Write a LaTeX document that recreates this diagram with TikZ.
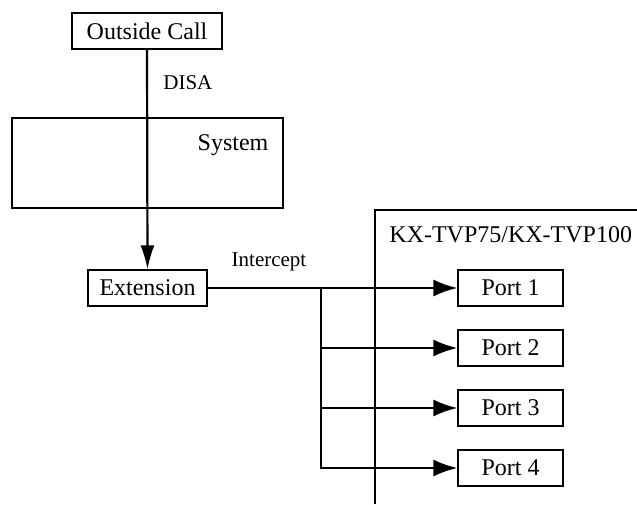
\documentclass[tikz,border=0pt]{standalone}
\usepackage{fontspec}
\setmainfont{Liberation Serif}
\usetikzlibrary{arrows.meta}
\begin{document}
\begin{tikzpicture}[x=0.5pt,y=-0.5pt,line cap=butt,line join=miter,
  box/.style={draw,line width=0.6pt,minimum height=18pt,inner sep=0pt,font=\fontsize{12}{14}\selectfont},
  flow/.style={line width=1.1pt,-{Latex[length=12pt,width=8.5pt]}},
  lbl/.style={font=\fontsize{10.5}{12}\selectfont,inner sep=0pt}]
  \useasboundingbox (0,0) rectangle (637,504);
  % system and voice processing frames
  \node[box,minimum width=135.5pt,minimum height=45pt] (sys) at (147.5,163) {};
  \node[font=\fontsize{12}{14}\selectfont,inner sep=0pt] (systxt) at (233,145) {System};
  \draw[line width=0.6pt] (375,504) -- (375,210) -- (640,210);
  \node[font=\fontsize{12}{14}\selectfont,inner sep=0pt,anchor=west] (kx) at (389,235) {KX-TVP75/KX-TVP100};
  % nodes
  \node[box,minimum width=75pt] (out) at (147,31) {Outside Call};
  \node[box,minimum width=59.5pt] (ext) at (147.5,288) {Extension};
  \foreach \i in {1,...,4}
    \node[box,minimum width=52.5pt] (p\i) at (510.5,228+60*\i) {Port \i};
  \coordinate (br) at (321,288);
  % connectors
  \draw[flow,-{Latex[length=12pt,width=7pt]}] (out.south) -- (ext.north);
  \draw[flow] (ext.east) -- (p1.west);
  \foreach \i in {2,3,4}
    \draw[flow] (br) |- (p\i.west);
  \node[lbl,anchor=west] (disa) at (163,83) {DISA};
  \node[lbl] (icpt) at (269,262) {Intercept};
\end{tikzpicture}
\end{document}
